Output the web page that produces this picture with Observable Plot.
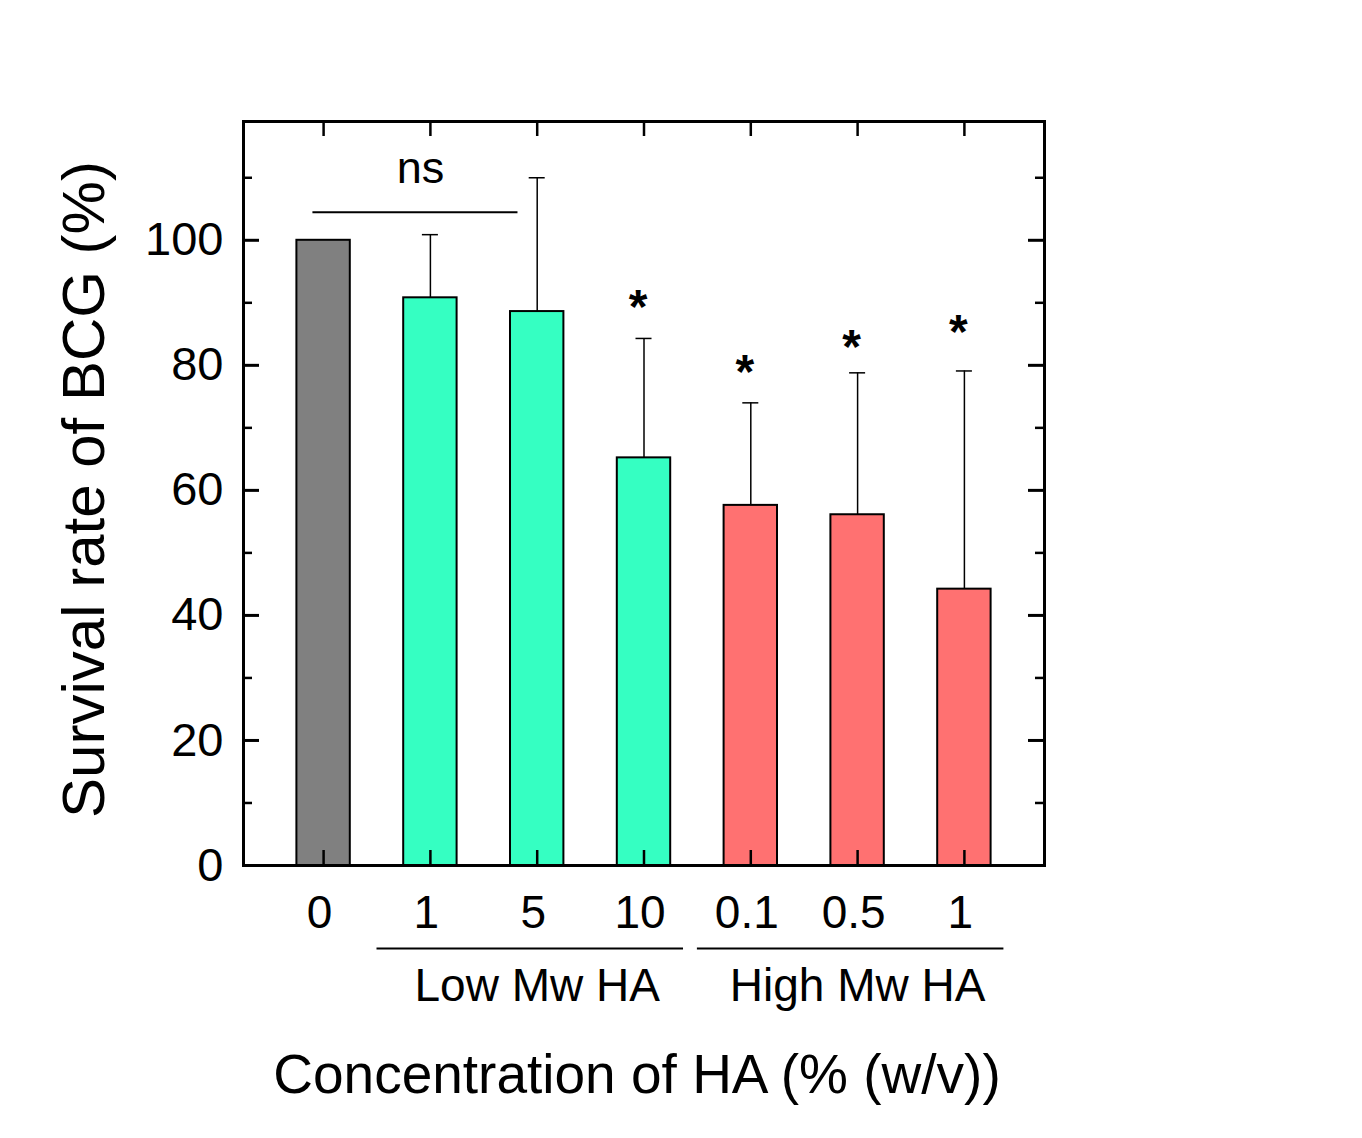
<!DOCTYPE html>
<html><head><meta charset="utf-8">
<script src="https://cdn.jsdelivr.net/npm/d3@7"></script>
<script src="https://cdn.jsdelivr.net/npm/@observablehq/plot@0.6"></script>
<style>html,body{margin:0;padding:0;background:#fff;} #chart svg{display:block;}</style>
</head><body><div id="chart"></div>
<script>
// ---- data ----
const xLabels = ["0", "1", "5", "10", "0.1", "0.5", "1"];
const groups = ["Control", "Low Mw HA", "Low Mw HA", "Low Mw HA", "High Mw HA", "High Mw HA", "High Mw HA"];
const means = [100, 90.8, 88.6, 65.2, 57.6, 56.1, 44.2];
const sds = [0, 10.1, 21.4, 19.1, 16.4, 22.7, 34.9];
const significance = ["", "", "", "*", "*", "*", "*"];
const starY = [null, null, null, 86.7, 76.3, 80.3, 82.7];
const yMajorTicks = [0, 20, 40, 60, 80, 100];
const yMinorTicks = [10, 30, 50, 70, 90, 110];
const groupSpans = [{label: "Low Mw HA", first: 1, last: 3}, {label: "High Mw HA", first: 4, last: 6}];
const nsBracket = [{label: "ns", first: 0, last: 2, y: 104.5}];
const colorDomain = ["Control", "Low Mw HA", "High Mw HA"];
const colorRange = ["#808080", "#35ffc2", "#ff7171"];
const yTitle = "Survival rate of BCG (%)";
const xTitle = "Concentration of HA (% (w/v))";

// ---- layout ----
const W = 1362, H = 1138, mL = 243, mR = 318, mT = 121, mB = 273;
const fw = W - mL - mR, fh = H - mT - mB;
const data = means.map((m, i) => ({i, label: xLabels[i], group: groups[i], mean: m, sd: sds[i], star: significance[i], starY: starY[i]}));
const withErr = data.filter(d => d.sd > 0);

const chart = Plot.plot({
  width: W, height: H, marginLeft: mL, marginRight: mR, marginTop: mT, marginBottom: mB,
  style: {fontFamily: "'Liberation Sans', Arial, sans-serif", background: "#fff", color: "#000"},
  x: {domain: [-0.75, 6.75], axis: null},
  y: {domain: [0, 119], axis: null},
  color: {domain: colorDomain, range: colorRange},
  marks: [
    Plot.rectY(data, {x1: d => d.i - 0.25, x2: d => d.i + 0.25, y1: 0, y2: "mean", fill: "group", stroke: "#000", strokeWidth: 2}),
    Plot.ruleX(withErr, {x: "i", y1: "mean", y2: d => d.mean + d.sd, stroke: "#000", strokeWidth: 1.5}),
    Plot.ruleY(withErr, {x1: d => d.i - 0.075, x2: d => d.i + 0.075, y: d => d.mean + d.sd, stroke: "#000", strokeWidth: 1.5}),
    // inward ticks
    Plot.tickY(yMajorTicks, {y: d => d, insetRight: fw - 16, stroke: "#000", strokeWidth: 3}),
    Plot.tickY(yMinorTicks, {y: d => d, insetRight: fw - 9, stroke: "#000", strokeWidth: 2.5}),
    Plot.tickY(yMajorTicks, {y: d => d, insetLeft: fw - 16, stroke: "#000", strokeWidth: 3}),
    Plot.tickY(yMinorTicks, {y: d => d, insetLeft: fw - 9, stroke: "#000", strokeWidth: 2.5}),
    Plot.tickX(data, {x: "i", insetBottom: fh - 15, stroke: "#000", strokeWidth: 2.5}),
    Plot.tickX(data, {x: "i", insetTop: fh - 15, stroke: "#000", strokeWidth: 2.5}),
    Plot.frame({stroke: "#000", strokeWidth: 3}),
    // axes labels
    Plot.axisY(yMajorTicks, {tickSize: 0, tickPadding: 20, fontSize: 47, label: null}),
    Plot.axisX(d3.range(xLabels.length), {tickSize: 0, tickPadding: 30, fontSize: 46, tickFormat: i => xLabels[i], label: null, dx: -4}),
    // significance
    Plot.ruleY(nsBracket, {x1: d => d.first - 0.1, x2: d => d.last - 0.18, y: "y", stroke: "#000", strokeWidth: 2}),
    Plot.text(nsBracket, {x: d => (d.first + d.last) / 2 - 0.14, y: "y", dx: 5, dy: -29, lineAnchor: "bottom", text: "label", fontSize: 45, fill: "#000"}),
    Plot.text(data.filter(d => d.star), {x: "i", y: "starY", text: "star", lineAnchor: "bottom", fontSize: 48, fontWeight: "bold", dx: -6, fill: "#000"}),
    // groups
    Plot.ruleY(groupSpans, {x1: g => g.first - 0.5, x2: g => g.last + 0.37, y: 0, dy: 83, stroke: "#000", strokeWidth: 2}),
    Plot.text(groupSpans, {x: g => (g.first + g.last) / 2, y: 0, dy: 135, lineAnchor: "bottom", text: "label", fontSize: 46, fill: "#000"}),
    // titles
    Plot.text([yTitle], {text: d => d, frameAnchor: "left", textAnchor: "middle", rotate: -90, dx: -140, dy: -4, lineAnchor: "bottom", fontSize: 60, fill: "#000"}),
    Plot.text([xTitle], {text: d => d, frameAnchor: "bottom", textAnchor: "middle", dx: -7, dy: 227, lineAnchor: "bottom", fontSize: 55, fill: "#000"})
  ]
});
document.getElementById("chart").appendChild(chart);
</script>
</body></html>
